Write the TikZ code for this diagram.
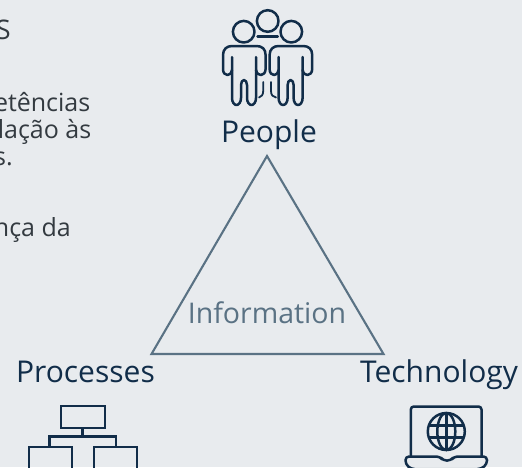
\documentclass[tikz,border=0pt]{standalone}
\usepackage{fontspec}
\setmainfont{Open Sans}
\definecolor{pageBack}{HTML}{E8EBEE}
\definecolor{iconNavy}{HTML}{112D49}
\definecolor{triGrey}{HTML}{5A7284}
\definecolor{bodyGrey}{HTML}{333A40}
\begin{document}
\begin{tikzpicture}
[x=1pt,y=-1pt,
  iconLine/.style={draw=iconNavy,line width=2.5pt,line join=round,line cap=round},
  triLine/.style={draw=triGrey,line width=2.1pt,line join=miter},
  labelText/.style={text=iconNavy,font=\fontsize{30}{30}\selectfont,anchor=base,inner sep=0pt},
  bodyText/.style={text=bodyGrey,font=\fontsize{25}{25}\selectfont,anchor=base east,inner sep=0pt}]
\useasboundingbox[fill=pageBack] (0,0) rectangle (522,467);
\clip (0,0) rectangle (522,467);
%% text on the left, cut by the page edge
\foreach \textname/\xend/\ybase/\content in {
  textb/90.5/111/{etências},
  textc/91.5/138/{lação às},
  textd/13/165/{s.},
  texte/71/236.5/{nça da}}
{
  \node (\textname) at (\xend,\ybase) [bodyText] {\content};
}
\node (texta) at (11,39.5) [bodyText,font=\fontsize{27}{27}\selectfont] {S};
%% triangle
\coordinate (apex) at (267,156);
\coordinate (baseL) at (151.5,354);
\coordinate (baseR) at (383.5,354);
\draw[triLine] (apex) -- (baseL) -- (baseR) -- cycle;
\node (info) at (267,323) [labelText,text=triGrey,font=\fontsize{28.5}{29}\selectfont] {Information};
%% labels
\node (people) at (269,142) [labelText] {People};
\node (processes) at (85.5,382.5) [labelText] {Processes};
\node (technology) at (439,382) [labelText] {Technology};
%% people icon
\foreach \cx/\cy in {267.7/21,243.7/31.7,291.3/31.7}
{
  \draw[iconLine] (\cx,\cy) circle (10.8);
}
\draw[iconLine] (257.5,36.7) -- (277.8,36.7);
\foreach \shiftx in {0,46.6}
{
  \begin{scope}[xshift=\shiftx pt]
    \draw[iconLine] (232,57) -- (232,98) arc (180:0:4.5 and 7) -- (241,85)
      arc (180:360:3 and 5) -- (247,98) arc (180:0:4.5 and 7) -- (256,57);
    \draw[iconLine] (232,70) .. controls (231,74) and (229,75) .. (227.5,75)
      .. controls (225,75) and (223,73) .. (223,69) -- (223,55)
      .. controls (223,49) and (227,46) .. (232,46) -- (256.5,46)
      .. controls (262,46) and (265.6,49) .. (265.6,55) -- (265.6,69)
      .. controls (265.6,73) and (263,75) .. (261,75)
      .. controls (259,75) and (257,74) .. (256,70);
  \end{scope}
}
\draw[iconLine,line width=1.8pt] (263.2,82) -- (263.2,91) .. controls (263.2,95) and (261,97) .. (259,97.5);
\draw[iconLine,line width=1.8pt] (271,82) -- (271,91) .. controls (271,95) and (273,97) .. (276,97.5);
%% processes icon
\draw[iconLine,line join=miter] (60.8,406) rectangle (105,428);
\draw[iconLine,line cap=butt,line join=miter] (82.7,428) -- (82.7,436.7);
\draw[iconLine,line cap=butt,line join=miter] (49.3,447) -- (49.3,436.7) -- (116,436.7) -- (116,447);
\draw[iconLine,line join=miter] (29,475) -- (29,447) -- (72,447) -- (72,475);
\draw[iconLine,line join=miter] (94,475) -- (94,447) -- (137,447) -- (137,475);
%% technology icon
\draw[iconLine,rounded corners=3pt] (410.8,456) -- (410.8,406.5) -- (481.5,406.5) -- (481.5,456);
\draw[iconLine,rounded corners=3.5pt] (405.5,456.5) -- (440,456.5) -- (443,460.5) -- (451,460.5)
  -- (454,456.5) -- (487,456.5) -- (487,464) -- (481,469) -- (411,469) -- (405.5,464) -- cycle;
\draw[iconLine] (446.3,431.5) circle (18.5);
\draw[iconLine] (446.3,431.5) ellipse (9 and 18.5);
\draw[iconLine] (446.3,413) -- (446.3,450);
\draw[iconLine] (429,425.5) -- (463.5,425.5);
\draw[iconLine] (429,437.5) -- (463.5,437.5);
\end{tikzpicture}
\end{document}
